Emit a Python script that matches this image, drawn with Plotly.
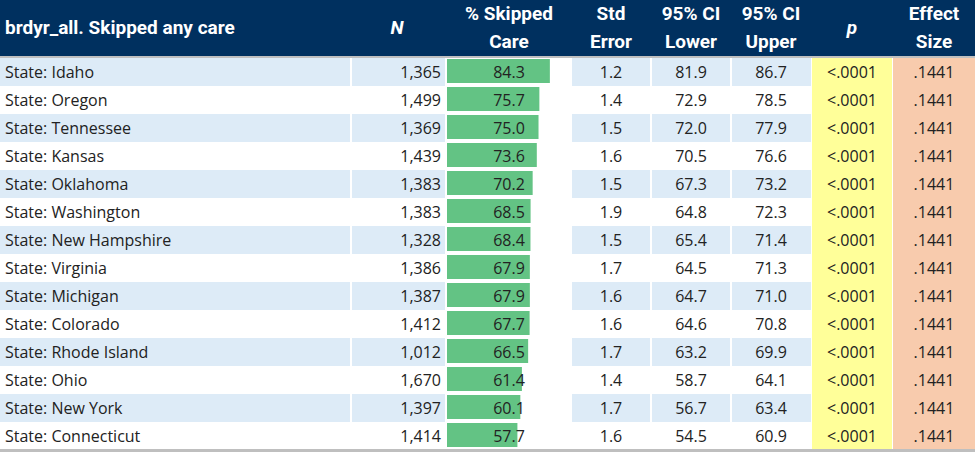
import plotly.graph_objects as go

# table values
states = ["Idaho", "Oregon", "Tennessee", "Kansas", "Oklahoma", "Washington",
          "New Hampshire", "Virginia", "Michigan", "Colorado", "Rhode Island",
          "Ohio", "New York", "Connecticut"]
n_obs = [1365, 1499, 1369, 1439, 1383, 1383, 1328, 1386, 1387, 1412, 1012, 1670, 1397, 1414]
pct_skipped = [84.3, 75.7, 75.0, 73.6, 70.2, 68.5, 68.4, 67.9, 67.9, 67.7, 66.5, 61.4, 60.1, 57.7]
std_err = [1.2, 1.4, 1.5, 1.6, 1.5, 1.9, 1.5, 1.7, 1.6, 1.6, 1.7, 1.4, 1.7, 1.6]
ci_lower = [81.9, 72.9, 72.0, 70.5, 67.3, 64.8, 65.4, 64.5, 64.7, 64.6, 63.2, 58.7, 56.7, 54.5]
ci_upper = [86.7, 78.5, 77.9, 76.6, 73.2, 72.3, 71.4, 71.3, 71.0, 70.8, 69.9, 64.1, 63.4, 60.9]
p_values = ["<.0001"] * 14
effect_size = [".1441"] * 14

title = "brdyr_all. Skipped any care"
headers = [("N", None), ("% Skipped", "Care"), ("Std", "Error"), ("95% CI", "Lower"),
           ("95% CI", "Upper"), ("p", None), ("Effect", "Size")]

W, H = 975, 452
NAVY = "#00305F"
BAND = "#DDEBF7"
GREEN = "#63C384"
YELLOW = "#FFFF99"
PEACH = "#F8CBAD"
GRID = "#BFBFBF"
BODY_FONT = dict(family="Open Sans", size=16, color="#222222")
HEAD_FONT = dict(family="Roboto", size=19, color="white")

rows = list(range(len(states)))
text_rows = [r + 2 / 28 for r in rows]  # nudge text down ~2px to sit like Excel's
# column edges in pixels, x axis runs 0..975
edges = [0, 351, 446, 571, 651, 731, 811, 892, 975]
centers = [None, 397, 509, 611, 691, 771, 852, 934]
bar_lo, bar_hi = 447, 570


def y_of(px):
    # row i is centred on y=i, 28px per row, first row centred at 72px
    return (px - 72) / 28


fig = go.Figure()

shapes = []
# header block
shapes.append(dict(type="rect", xref="x", yref="y", x0=0, x1=W, y0=y_of(0), y1=y_of(56),
                   fillcolor=NAVY, line_width=0, layer="below"))
shapes.append(dict(type="rect", xref="x", yref="y", x0=0, x1=W, y0=y_of(56), y1=y_of(58),
                   fillcolor=GRID, line_width=0, layer="below"))
# banded rows
for i in rows:
    if i % 2 == 0:
        shapes.append(dict(type="rect", xref="x", yref="y", x0=0, x1=edges[6],
                           y0=i - 0.5, y1=i + 0.5, fillcolor=BAND, line_width=0, layer="below"))
# % column plain, p and effect columns tinted
shapes.append(dict(type="rect", xref="x", yref="y", x0=edges[2], x1=edges[3],
                   y0=-0.5, y1=len(rows) - 0.5, fillcolor="white", line_width=0, layer="below"))
shapes.append(dict(type="rect", xref="x", yref="y", x0=edges[6] + 1, x1=edges[7],
                   y0=-0.5, y1=len(rows) - 0.5, fillcolor=YELLOW, line_width=0, layer="below"))
shapes.append(dict(type="rect", xref="x", yref="y", x0=edges[7] + 1, x1=W,
                   y0=-0.5, y1=len(rows) - 0.5, fillcolor=PEACH, line_width=0, layer="below"))
# white column separators
for e in edges[1:6]:
    shapes.append(dict(type="line", xref="x", yref="y", x0=e, x1=e, y0=-0.5, y1=len(rows) - 0.5,
                       line=dict(color="white", width=2), layer="below"))
# bottom rule
shapes.append(dict(type="rect", xref="x", yref="y", x0=0, x1=W, y0=y_of(449), y1=y_of(452),
                   fillcolor=GRID, line_width=0, layer="below"))

# body text
fig.add_trace(go.Scatter(x=[5] * len(rows), y=text_rows, mode="text",
                         text=["State: " + s for s in states], textposition="middle right",
                         textfont=BODY_FONT, cliponaxis=False, hoverinfo="skip"))
fig.add_trace(go.Scatter(x=[441] * len(rows), y=text_rows, mode="text",
                         text=[f"{v:,}" for v in n_obs], textposition="middle left",
                         textfont=BODY_FONT, cliponaxis=False, hoverinfo="skip"))
for col, vals in zip([3, 4, 5, 6, 7], [std_err, ci_lower, ci_upper, p_values, effect_size]):
    fig.add_trace(go.Scatter(x=[centers[col]] * len(rows), y=text_rows, mode="text",
                             text=[v if isinstance(v, str) else f"{v:.1f}" for v in vals],
                             textposition="middle center", textfont=BODY_FONT,
                             cliponaxis=False, hoverinfo="skip"))

# header text
fig.add_trace(go.Scatter(x=[5], y=[y_of(29)], mode="text", text=[f"<b>{title}</b>"],
                         textposition="middle right", textfont=HEAD_FONT,
                         cliponaxis=False, hoverinfo="skip"))
for col, (l1, l2) in enumerate(headers, start=1):
    if l2 is None:
        fig.add_trace(go.Scatter(x=[centers[col]], y=[y_of(29)], mode="text",
                                 text=[f"<b><i>{l1}</i></b>"], textposition="middle center",
                                 textfont=HEAD_FONT, cliponaxis=False, hoverinfo="skip"))
    else:
        fig.add_trace(go.Scatter(x=[centers[col]] * 2, y=[y_of(15), y_of(43)], mode="text",
                                 text=[f"<b>{l1}</b>", f"<b>{l2}</b>"],
                                 textposition="middle center",
                                 textfont=HEAD_FONT, cliponaxis=False, hoverinfo="skip"))

# data bars in the % column, on their own x axis
fig.add_trace(go.Bar(x=pct_skipped, y=rows, orientation="h", xaxis="x2", yaxis="y",
                     width=0.857, offset=-0.464, marker=dict(color=GREEN, line_width=0),
                     hoverinfo="skip"))
fig.add_trace(go.Scatter(x=[(509 - bar_lo) / (bar_hi - bar_lo) * 100.8] * len(rows), y=text_rows,
                         xaxis="x2", yaxis="y", mode="text",
                         text=[f"{v:.1f}" for v in pct_skipped],
                         textposition="middle center", textfont=BODY_FONT,
                         cliponaxis=False, hoverinfo="skip"))

fig.update_layout(
    width=W, height=H,
    margin=dict(l=0, r=0, t=0, b=0),
    paper_bgcolor="white",
    plot_bgcolor="rgba(0,0,0,0)",
    showlegend=False,
    shapes=shapes,
    xaxis=dict(range=[0, W], domain=[0, 1], visible=False, fixedrange=True),
    xaxis2=dict(range=[0, 100.8], domain=[bar_lo / W, bar_hi / W], anchor="y",
                visible=False, fixedrange=True),
    yaxis=dict(range=[y_of(H), y_of(0)], domain=[0, 1], visible=False, fixedrange=True),
)

# drop the default page margin so the table sits flush in the window
fig.write_html("out.html", config={"displayModeBar": False},
               post_script="document.body.style.margin='0';")
